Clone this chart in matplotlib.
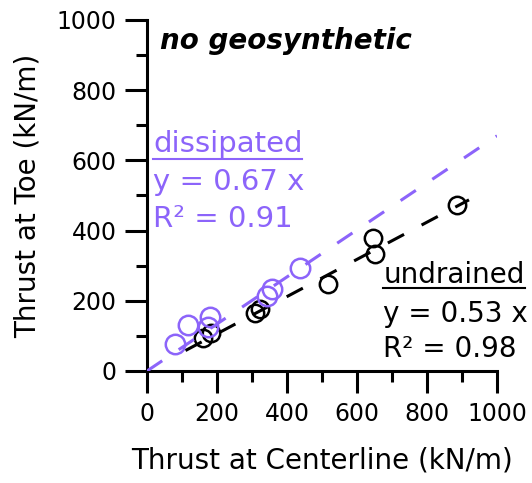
import numpy as np
import matplotlib.pyplot as plt

plt.rcParams['font.family'] = ['DejaVu Sans']

# thrust at centerline vs thrust at toe (kN/m)
undrained_x = [160, 183, 308, 323, 517, 646, 651, 886]
undrained_y = [94, 107, 165, 177, 249, 379, 333, 474]
dissipated_x = [80, 117, 174, 180, 343, 357, 437]
dissipated_y = [78, 131, 124, 154, 214, 234, 294]

undrained_slope = 0.53
dissipated_slope = 0.67
undrained_r2 = 0.98
dissipated_r2 = 0.91

undrained_fit_x = [110, 920]
dissipated_fit_x = [0, 1000]

purple = '#8c64fa'
lw = 2.2

fig = plt.figure(figsize=(5.32, 4.83), dpi=100)
ax = fig.add_axes([0.2763, 0.2319, 0.6579, 0.7267])

# fitted lines through origin
ux = np.array(undrained_fit_x)
ax.plot(ux, undrained_slope * ux, color='black', lw=lw, dashes=(6, 6.5), zorder=2)
ax.plot(undrained_x, undrained_y, 'o', mfc='none', mec='black', ms=12.5, mew=1.8, zorder=3)

dx = np.array(dissipated_fit_x)
ax.plot(dx, dissipated_slope * dx, color=purple, lw=lw, dashes=(6, 6.5), zorder=4)
ax.plot(dissipated_x, dissipated_y, 'o', mfc='none', mec=purple, ms=14, mew=1.8, zorder=5)

ax.set_xlim(0, 1000)
ax.set_ylim(0, 1000)
ax.set_xticks(range(0, 1001, 200))
ax.set_yticks(range(0, 1001, 200))
ax.set_xticks(range(100, 1000, 200), minor=True)
ax.set_yticks(range(100, 1000, 200), minor=True)

for side in ['top', 'right']:
    ax.spines[side].set_visible(False)
for side in ['left', 'bottom']:
    ax.spines[side].set_linewidth(lw)
    ax.spines[side].set_capstyle('projecting')

ax.tick_params(which='major', direction='out', length=16, width=lw, labelsize=17, pad=6)
ax.tick_params(which='minor', direction='out', length=8, width=lw)

ax.set_xlabel('Thrust at Centerline (kN/m)', fontsize=20, labelpad=15)
ax.set_ylabel('Thrust at Toe (kN/m)', fontsize=20, labelpad=11)

ax.text(37, 917, 'no geosynthetic', fontsize=20, fontweight='bold', fontstyle='italic')

t1 = ax.text(17, 624, 'dissipated', fontsize=21, color=purple)
ax.text(17, 516, f'y = {dissipated_slope:.2f} x', fontsize=21, color=purple)
ax.text(17, 410, f'R² = {dissipated_r2:.2f}', fontsize=21, color=purple)

t2 = ax.text(675, 251, 'undrained', fontsize=20, color='black')
ax.text(675, 140, f'y = {undrained_slope:.2f} x', fontsize=20, color='black')
ax.text(675, 40, f'R² = {undrained_r2:.2f}', fontsize=20, color='black')

# underline the group headings
fig.canvas.draw()
inv = ax.transData.inverted()
for t, y, c in [(t1, 604, purple), (t2, 236, 'black')]:
    bb = t.get_window_extent()
    x0 = inv.transform((bb.x0, 0))[0]
    x1 = inv.transform((bb.x1, 0))[0]
    ax.plot([x0, x1], [y, y], color=c, lw=1.5, clip_on=False)

fig.savefig('out.png', dpi=100)
